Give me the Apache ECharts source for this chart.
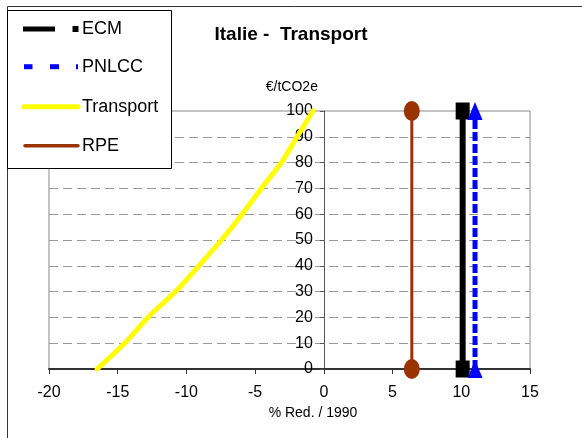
<!DOCTYPE html>
<html><head><meta charset="utf-8">
<script src="https://cdn.jsdelivr.net/npm/echarts@6/dist/echarts.min.js"></script>
<style>html,body{margin:0;padding:0;background:#fff}#c{width:582px;height:438px}</style>
</head><body><div id="c"></div>
<script>
// ---- data ----
const chartTitle = 'Italie -  Transport';
const xAxisName = '% Red. / 1990';
const yAxisName = '€/tCO2e';
const seriesNames = ['ECM', 'PNLCC', 'Transport', 'RPE'];
const xMin = -20, xMax = 15, xStep = 5;
const yMin = 0, yMax = 100, yStep = 10;
const transportX = [-16.5, -14.5, -12.8, -10.8, -9.1, -7.45, -5.95, -4.55, -3.1, -1.95, -0.8];
const transportY = [0, 10, 20, 30, 40, 50, 60, 70, 80, 90, 100];
const ecmX = [10.1, 10.1];
const ecmY = [0, 100];
const pnlccX = [11, 11];
const pnlccY = [0, 100];
const rpeX = [6.4, 6.4];
const rpeY = [0, 100];

const FF = '"Liberation Sans", Arial, sans-serif';
const pairs = (xs, ys) => xs.map((x, i) => [x, ys[i]]);
const colors = { ECM: '#000000', PNLCC: '#0000ff', Transport: '#ffff00', RPE: '#993300' };

const GRID = { left: 49, top: 111, width: 481, height: 258 };
// y axis sits at x = 0 of the x axis
const yAxisOffset = -GRID.width * (0 - xMin) / (xMax - xMin);

const chart = echarts.init(document.getElementById('c'), null, { renderer: 'canvas' });

const rowY = [29, 66.7, 106.7, 145.7];
const gfx = [
  { type: 'rect', z: 0, shape: { x: 7.5, y: 6.5, width: 700, height: 700 },
    style: { fill: 'none', stroke: '#333', lineWidth: 1 } },
  { type: 'rect', z: 100, shape: { x: 7.5, y: 10.5, width: 164, height: 158 },
    style: { fill: '#fff', stroke: '#000', lineWidth: 1 } },
  { type: 'rect', z: 101, shape: { x: 23, y: rowY[0] - 2.5, width: 32, height: 5 }, style: { fill: colors.ECM } },
  { type: 'rect', z: 101, shape: { x: 72.5, y: rowY[0] - 3, width: 6, height: 6 }, style: { fill: colors.ECM } },
  { type: 'rect', z: 101, shape: { x: 24, y: rowY[1] - 2.5, width: 8.5, height: 5 }, style: { fill: colors.PNLCC } },
  { type: 'rect', z: 101, shape: { x: 50, y: rowY[1] - 2.5, width: 9, height: 5 }, style: { fill: colors.PNLCC } },
  { type: 'rect', z: 101, shape: { x: 76, y: rowY[1] - 2.5, width: 2, height: 5 }, style: { fill: colors.PNLCC } },
  { type: 'line', z: 101, shape: { x1: 24, y1: rowY[2], x2: 78, y2: rowY[2] },
    style: { stroke: colors.Transport, lineWidth: 5, lineCap: 'round' } },
  { type: 'line', z: 101, shape: { x1: 25, y1: rowY[3], x2: 78, y2: rowY[3] },
    style: { stroke: colors.RPE, lineWidth: 3.5, lineCap: 'round' } }
];
seriesNames.forEach((n, i) => {
  gfx.push({ type: 'text', z: 102, x: 82, y: rowY[i],
    style: { text: n, fill: '#000', font: '18px ' + FF, verticalAlign: 'middle', textVerticalAlign: 'middle' } });
});

const option = {
  backgroundColor: '#fff',
  animation: false,
  title: {
    text: chartTitle, left: 'center', top: 20, padding: [5, 0, 5, 16],
    textStyle: { fontSize: 19, fontWeight: 'bold', color: '#000', fontFamily: FF }
  },
  grid: Object.assign({ show: true, borderColor: '#888', borderWidth: 1,
    backgroundColor: 'transparent', containLabel: false, outerBoundsMode: 'none' }, GRID),
  xAxis: {
    type: 'value', min: xMin, max: xMax, interval: xStep,
    name: xAxisName, nameLocation: 'middle', nameGap: 33,
    nameTextStyle: { fontSize: 14, color: '#000', fontFamily: FF, padding: [0, 0, 0, 47] },
    axisLine: { show: true, onZero: true, lineStyle: { color: '#333', width: 2 } },
    axisTick: { show: true, length: 5, inside: false, lineStyle: { color: '#333', width: 1 } },
    axisLabel: { fontSize: 16, color: '#000', margin: 16, fontFamily: FF },
    splitLine: { show: false }
  },
  yAxis: {
    type: 'value', min: yMin, max: yMax, interval: yStep,
    position: 'left', offset: yAxisOffset,
    name: yAxisName, nameLocation: 'end', nameGap: 17,
    nameTextStyle: { fontSize: 14, color: '#000', fontFamily: FF, padding: [0, 64, 0, 0] },
    axisLine: { show: true, onZero: false, lineStyle: { color: '#555', width: 1 } },
    axisTick: { show: true, length: 4, inside: false, lineStyle: { color: '#555', width: 1 } },
    axisLabel: { fontSize: 16, color: '#000', margin: 11, fontFamily: FF },
    splitLine: { show: true, showMinLine: false, showMaxLine: false,
      lineStyle: { color: '#999', width: 1, type: [9, 5] } }
  },
  series: [
    { name: 'ECM', type: 'line', data: pairs(ecmX, ecmY), clip: false,
      symbol: 'rect', symbolSize: [14, 17], showAllSymbol: true,
      itemStyle: { color: colors.ECM, borderWidth: 0 },
      lineStyle: { color: colors.ECM, width: 6 }, z: 3 },
    { name: 'PNLCC', type: 'line', data: pairs(pnlccX, pnlccY), clip: false,
      symbol: 'triangle', symbolSize: [15, 18], showAllSymbol: true,
      itemStyle: { color: colors.PNLCC, borderWidth: 0 },
      lineStyle: { color: colors.PNLCC, width: 5, type: [9, 3] }, z: 4 },
    { name: 'Transport', type: 'line', data: pairs(transportX, transportY), clip: false,
      symbol: 'none', smooth: 0.35,
      lineStyle: { color: colors.Transport, width: 5, cap: 'round' }, itemStyle: { color: colors.Transport }, z: 5 },
    { name: 'RPE', type: 'line', data: pairs(rpeX, rpeY), clip: false,
      symbol: 'path://M0 1 A1 1 0 1 1 2 1 A1 1 0 1 1 0 1 Z', symbolSize: [16, 20], symbolKeepAspect: false,
      showAllSymbol: true,
      itemStyle: { color: colors.RPE, borderWidth: 0 },
      lineStyle: { color: colors.RPE, width: 3 }, z: 6 }
  ],
  graphic: gfx
};
chart.setOption(option);
</script>
</body></html>
